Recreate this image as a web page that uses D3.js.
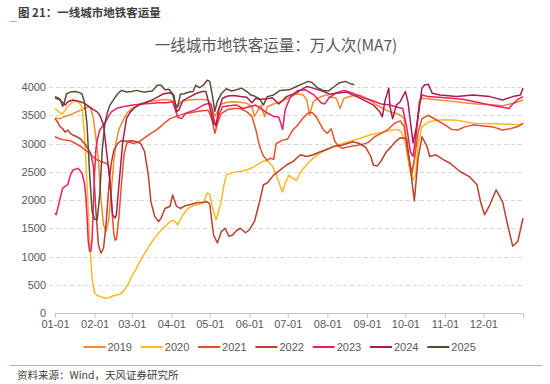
<!DOCTYPE html>
<html>
<head>
<meta charset="utf-8">
<script src="https://cdn.jsdelivr.net/npm/d3@7"></script>
<style>
  body { margin: 0; background: #fff; }
  svg { display: block; }
  text { font-family: "Liberation Sans", Arial, "Noto Sans CJK SC", sans-serif; }
  .cjk { font-family: "Noto Sans CJK SC", "Liberation Sans", sans-serif; }
</style>
</head>
<body>
<div id="chart"></div>
<script>
  // DATA  ([day of year, value])
  var years = ["2019", "2020", "2021", "2022", "2023", "2024", "2025"];
  var colours = ["#F28A2E", "#FDB924", "#E4502B", "#B8412F", "#EC1E63", "#A61E4D", "#5E4B36"];
  var monthStarts = [0, 31, 60, 91, 121, 152, 182, 213, 244, 274, 305, 335];
  var monthLabels = ["01-01", "02-01", "03-01", "04-01", "05-01", "06-01", "07-01", "08-01", "09-01", "10-01", "11-01", "12-01"];
  var yTicks = [0, 500, 1000, 1500, 2000, 2500, 3000, 3500, 4000];

  var s2019 = [[0,3450],[4,3440],[8,3480],[12,3510],[17,3560],[22,3610],[26,3650],[28,3620],[30,3450],[32,3100],[34,2700],[36,2000],[38,1550],[40,1450],[42,1650],[44,2150],[46,2700],[48,3050],[50,3250],[53,3400],[56,3530],[60,3620],[64,3660],[70,3720],[75,3750],[80,3760],[85,3780],[90,3770],[93,3740],[95,3620],[97,3700],[100,3750],[105,3770],[110,3780],[115,3780],[120,3770],[123,3620],[125,3480],[127,3560],[130,3700],[135,3730],[140,3740],[145,3730],[150,3710],[154,3650],[156,3480],[158,3560],[161,3680],[164,3475],[166,3650],[171,3700],[176,3740],[182,3800],[189,3880],[194,3860],[197,3770],[199,3505],[202,3740],[207,3820],[212,3860],[216,3820],[220,3800],[223,3620],[226,3800],[232,3840],[238,3860],[242,3820],[246,3770],[250,3700],[254,3650],[258,3600],[262,3560],[266,3540],[270,3500],[273,3450],[275,3000],[277,2600],[279,2400],[281,2700],[283,3300],[285,3750],[287,3800],[292,3790],[300,3770],[310,3750],[320,3720],[330,3700],[340,3690],[350,3670],[360,3720],[366,3770]];

  var s2020 = [[0,3620],[3,3560],[5,3520],[7,3560],[10,3650],[13,3720],[16,3760],[19,3720],[21,3650],[23,3200],[25,2300],[27,1300],[29,600],[31,360],[33,310],[36,290],[39,260],[42,270],[45,300],[48,320],[51,330],[54,400],[57,500],[60,650],[63,760],[66,900],[70,1050],[74,1200],[78,1330],[82,1440],[86,1530],[90,1620],[93,1640],[96,1560],[98,1650],[100,1740],[104,1850],[108,1900],[112,1920],[116,1950],[119,2120],[121,2100],[124,1800],[126,1650],[128,1800],[130,1980],[132,2250],[134,2440],[138,2480],[142,2500],[146,2510],[150,2530],[154,2570],[158,2620],[162,2680],[166,2700],[170,2600],[173,2450],[176,2250],[178,2140],[180,2300],[183,2440],[186,2380],[189,2350],[192,2500],[196,2600],[200,2700],[204,2780],[208,2840],[212,2890],[218,2940],[225,3000],[232,3050],[238,3090],[245,3140],[252,3180],[258,3210],[264,3240],[268,3250],[271,3200],[274,3000],[277,2600],[280,2350],[282,2450],[284,3000],[287,3300],[292,3380],[298,3410],[305,3420],[314,3410],[320,3390],[327,3360],[335,3355],[345,3350],[355,3340],[363,3330],[366,3350]];

  var s2021 = [[0,3120],[4,3080],[8,3060],[12,3050],[16,3000],[20,2950],[24,2880],[28,2800],[32,2720],[36,2680],[40,2650],[42,2600],[44,2000],[46,1400],[47,1290],[48,1300],[50,1700],[52,2300],[54,2800],[56,3000],[58,3030],[61,3000],[65,3020],[70,3100],[75,3180],[80,3250],[85,3350],[90,3440],[95,3480],[100,3520],[105,3540],[110,3560],[115,3580],[120,3590],[123,3400],[125,3180],[127,3350],[130,3530],[135,3600],[140,3620],[145,3620],[150,3560],[154,3480],[157,3250],[160,2950],[163,2780],[166,2700],[168,2740],[171,2720],[173,3000],[178,3060],[182,3080],[186,3240],[190,3330],[194,3450],[198,3540],[201,3550],[204,3480],[207,3360],[210,3240],[213,3180],[216,3260],[219,3030],[222,2950],[225,2915],[229,2940],[234,2960],[240,2980],[245,3020],[250,3120],[255,3180],[260,3240],[265,3350],[270,3400],[273,3300],[276,2800],[279,2500],[281,2700],[284,3200],[287,3440],[292,3500],[298,3420],[305,3330],[310,3250],[315,3240],[320,3290],[327,3330],[335,3310],[343,3290],[350,3240],[356,3260],[362,3300],[366,3360]];

  var s2022 = [[0,3440],[2,3380],[4,3300],[6,3260],[8,3200],[10,3240],[12,3180],[14,3150],[17,3120],[20,3080],[23,3000],[26,2900],[28,2820],[30,2600],[32,1800],[34,1200],[36,1060],[38,1150],[40,1600],[42,2200],[44,2650],[46,2880],[49,3000],[52,3050],[56,3040],[60,3050],[64,3030],[67,3000],[70,2860],[73,2440],[75,1970],[78,1710],[81,1620],[83,1680],[86,1850],[90,1890],[92,2090],[95,1890],[98,1850],[102,1900],[106,1920],[111,1950],[116,1960],[119,1970],[121,1930],[124,1380],[127,1240],[130,1440],[133,1500],[136,1360],[139,1380],[142,1460],[145,1500],[149,1420],[152,1470],[156,1620],[160,1970],[163,2270],[166,2300],[171,2440],[176,2530],[181,2620],[186,2680],[192,2800],[197,2770],[202,2800],[207,2850],[212,2890],[218,2950],[225,2975],[233,3030],[238,3000],[243,2930],[247,2770],[249,2620],[252,2600],[255,2690],[259,2850],[263,2945],[266,3030],[270,3100],[275,3090],[277,2740],[281,1985],[284,2740],[287,3120],[291,2945],[293,2770],[298,2800],[304,2710],[309,2650],[317,2500],[324,2415],[330,2270],[333,1950],[336,1740],[340,1910],[345,2180],[350,1970],[354,1560],[358,1180],[362,1270],[366,1680]];

  var s2023 = [[0,1770],[1,1740],[4,2030],[6,2210],[10,2270],[12,2440],[14,2530],[18,2560],[21,2480],[23,2300],[24,2100],[25,1740],[26,1270],[27,1100],[28,1090],[29,1300],[30,1900],[31,2500],[32,2900],[33,3060],[35,3240],[39,3360],[44,3560],[49,3630],[53,3650],[61,3680],[68,3700],[74,3710],[80,3720],[87,3720],[92,3740],[94,3600],[96,3470],[99,3440],[102,3530],[105,3560],[110,3600],[116,3680],[120,3710],[122,3700],[124,3450],[126,3300],[128,3500],[131,3650],[136,3670],[142,3680],[147,3620],[152,3650],[157,3680],[162,3600],[166,3540],[171,3480],[175,3470],[178,3250],[180,3600],[184,3820],[190,3940],[196,3950],[203,3850],[208,3720],[211,3700],[214,3800],[220,3900],[226,3940],[232,3900],[240,3820],[248,3760],[255,3700],[262,3680],[268,3640],[272,3620],[275,3300],[278,2850],[280,2770],[282,3100],[285,3700],[287,3860],[292,3830],[300,3820],[310,3800],[320,3780],[330,3730],[340,3680],[350,3640],[355,3620],[358,3700],[362,3780],[366,3830]];

  var s2024 = [[0,3810],[4,3770],[8,3680],[10,3740],[14,3770],[20,3740],[23,3710],[27,3650],[30,3600],[33,3560],[35,3500],[38,3330],[40,2920],[43,2330],[45,1740],[47,1680],[48,1740],[50,2270],[53,3030],[56,3450],[59,3560],[62,3630],[66,3690],[70,3720],[75,3760],[80,3820],[85,3880],[90,3900],[93,3850],[95,3560],[97,3600],[100,3760],[105,3820],[110,3880],[115,3920],[118,3920],[121,3650],[124,3350],[126,3330],[128,3600],[131,3800],[135,3840],[140,3850],[145,3830],[150,3820],[154,3720],[157,3800],[160,3780],[165,3790],[170,3810],[175,3700],[178,3760],[181,3830],[189,3900],[197,4010],[202,3980],[210,3920],[215,3870],[220,3890],[228,3910],[236,3830],[244,3740],[249,3680],[254,3560],[256,3470],[258,3750],[261,3980],[262,3650],[264,3440],[267,3680],[270,3740],[274,3920],[276,3740],[280,3010],[283,3330],[287,3980],[289,4035],[292,4050],[295,3890],[301,3860],[314,3830],[327,3860],[340,3830],[350,3770],[358,3830],[364,3860],[366,3980]];

  var s2025 = [[0,3830],[2,3810],[4,3780],[6,3660],[7,3700],[9,3880],[12,3910],[16,3920],[19,3900],[21,3880],[23,3740],[25,3350],[27,2500],[29,1800],[31,1660],[33,1650],[35,2100],[37,2900],[39,3350],[41,3550],[43,3680],[46,3780],[49,3880],[52,3940],[56,3910],[60,3920],[64,3940],[67,3920],[70,3910],[73,3920],[76,3930],[80,4030],[83,4030],[86,3950],[89,3960],[92,3880],[94,3700],[96,3650],[98,3870],[101,3880],[105,3910],[108,3920],[110,4030],[113,3990],[116,4030],[119,4120],[121,4100],[123,3860],[125,3570],[127,3750],[130,3880],[134,3970],[138,3930],[142,3950],[146,3980],[150,3920],[153,3860],[156,3840],[160,3790],[163,3680],[166,3830],[171,3860],[176,3940],[183,3950],[188,4000],[193,4050],[198,4100],[201,4080],[205,3990],[210,3940],[214,3930],[218,4000],[222,4070],[227,4100],[231,4060],[234,4040]];

  var series = [s2019, s2020, s2021, s2022, s2023, s2024, s2025];

  // SVG AND D3 STUFF
  var svg = d3.select("#chart")
    .append("svg")
    .attr("width", 550)
    .attr("height", 384);

  var xScale = d3.scaleLinear().domain([0, 366]).range([55, 523]);
  var yScale = d3.scaleLinear().domain([0, 4000]).range([313, 87]);

  // Header
  svg.append("text")
    .attr("class", "cjk")
    .attr("x", 18).attr("y", 16.5)
    .attr("font-size", "11.5px").attr("font-weight", "bold")
    .attr("fill", "#404040")
    .text("图 21：一线城市地铁客运量");
  svg.append("line")
    .attr("x1", 10).attr("x2", 17).attr("y1", 21.5).attr("y2", 21.5)
    .attr("stroke", "#F4A46A").attr("stroke-width", 1);

  // Title
  svg.append("text")
    .attr("class", "cjk")
    .attr("x", 276).attr("y", 51)
    .attr("text-anchor", "middle")
    .attr("font-size", "15.5px")
    .attr("fill", "#595959")
    .text("一线城市地铁客运量：万人次(MA7)");

  // Grid lines
  svg.append("g")
    .selectAll("line")
    .data(yTicks.filter(function(d) { return d > 0; }))
    .enter()
    .append("line")
    .attr("x1", 49).attr("x2", 523)
    .attr("y1", function(d) { return Math.round(yScale(d)) + 0.5; })
    .attr("y2", function(d) { return Math.round(yScale(d)) + 0.5; })
    .attr("stroke", "#D9D9D9")
    .attr("stroke-dasharray", "4,3");

  // Y axis labels
  svg.append("g")
    .selectAll("text")
    .data(yTicks)
    .enter()
    .append("text")
    .attr("x", 46)
    .attr("y", function(d) { return yScale(d) + 4; })
    .attr("text-anchor", "end")
    .attr("font-size", "11px")
    .attr("fill", "#595959")
    .text(function(d) { return d; });

  // X axis
  var xAxis = d3.axisBottom(xScale)
    .tickValues(monthStarts.concat([366]))
    .tickSize(4)
    .tickFormat(function(d) {
      var i = monthStarts.indexOf(d);
      return i < 0 ? "" : monthLabels[i];
    });
  var gx = svg.append("g")
    .attr("transform", "translate(0, 313.5)")
    .call(xAxis);
  gx.select(".domain").attr("stroke", "#BFBFBF").attr("d", "M55,0H523");
  gx.selectAll(".tick line").attr("stroke", "#BFBFBF");
  gx.selectAll(".tick text")
    .attr("font-size", "11px")
    .attr("font-family", "Liberation Sans, Arial, sans-serif")
    .attr("fill", "#595959");

  // Lines
  var line = d3.line()
    .x(function(d) { return xScale(d[0]); })
    .y(function(d) { return yScale(d[1]); });

  svg.append("g")
    .selectAll("path")
    .data(series)
    .enter()
    .append("path")
    .attr("d", line)
    .attr("fill", "none")
    .attr("stroke", function(d, i) { return colours[i]; })
    .attr("stroke-width", 1.5)
    .attr("stroke-linejoin", "round");

  // Legend
  var legend = svg.append("g")
    .selectAll("g")
    .data(years)
    .enter()
    .append("g")
    .attr("transform", function(d, i) { return "translate(" + (83.5 + i * 57.3) + ", 347)"; });
  legend.append("line")
    .attr("x1", 0).attr("x2", 22)
    .attr("stroke", function(d, i) { return colours[i]; })
    .attr("stroke-width", 2);
  legend.append("text")
    .attr("x", 24).attr("y", 4)
    .attr("font-size", "11px")
    .attr("fill", "#595959")
    .text(function(d) { return d; });

  // Footer
  svg.append("line")
    .attr("x1", 10).attr("x2", 542).attr("y1", 365.5).attr("y2", 365.5)
    .attr("stroke", "#F4A46A").attr("stroke-width", 1);
  svg.append("text")
    .attr("class", "cjk")
    .attr("x", 17).attr("y", 379)
    .attr("font-size", "10.5px")
    .attr("fill", "#404040")
    .text("资料来源：Wind，天风证券研究所");
</script>
</body>
</html>
